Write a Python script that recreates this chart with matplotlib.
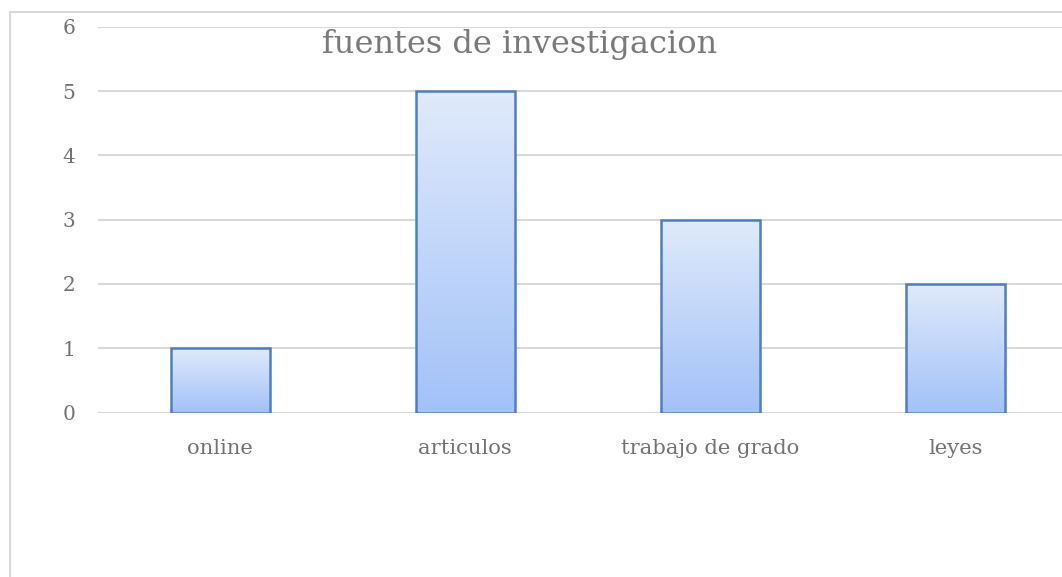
import matplotlib
matplotlib.use("Agg")
import matplotlib.pyplot as plt
import numpy as np
from matplotlib.colors import LinearSegmentedColormap

categories = ["online", "articulos", "trabajo de grado", "leyes"]
values = [1, 5, 3, 2]
yticks = [0, 1, 2, 3, 4, 5, 6]
title = "fuentes de investigacion"

W, H = 1062, 577
fig = plt.figure(figsize=(W / 100, H / 100), dpi=100)
plt.rcParams['font.family'] = ['DejaVu Serif']

# outer chart border (partially cropped)
fig.add_artist(plt.Line2D([10 / W, 10 / W], [0, 1 - 12 / H], color="#d9d9d9", lw=1.5))
fig.add_artist(plt.Line2D([10 / W, 1.0], [1 - 12 / H, 1 - 12 / H], color="#d9d9d9", lw=1.5))

left, right = 97.7, 1077.7
top, bottom = 26.7, 412.5
ax = fig.add_axes([left / W, 1 - bottom / H, (right - left) / W, (bottom - top) / H])
for s in ax.spines.values():
    s.set_visible(False)
ax.set_yticks(yticks)
ax.yaxis.grid(True, color="#d9d9d9", lw=1.5)
ax.set_axisbelow(True)
ax.tick_params(length=0, labelsize=14.5, colors="#737373")
ax.tick_params(axis="y", pad=16)
ax.tick_params(axis="x", pad=19, labelsize=15.2)
ax.set_xticks(range(len(categories)))
ax.set_xticklabels(categories)

cmap = LinearSegmentedColormap.from_list("g", ["#a3c2f8", "#e0eafb"])
grad = np.linspace(0, 1, 256).reshape(-1, 1)
bars = ax.bar(range(len(categories)), values, width=0.404, facecolor="none",
              edgecolor="#4f7fc0", linewidth=1.8, zorder=3)
for b in bars:
    x0, y0 = b.get_x(), b.get_y()
    w, h = b.get_width(), b.get_height()
    im = ax.imshow(grad, extent=[x0, x0 + w, y0, y0 + h], origin="lower",
                   aspect="auto", cmap=cmap, zorder=2)
    im.set_clip_path(b)
ax.set_xlim(-0.5, len(categories) - 0.5)
ax.set_ylim(0, 6)

fig.text(520 / W, 1 - 45 / H, title, ha="center", va="center", fontsize=23, color="#7a7a7a")

fig.savefig("out.png", dpi=100)
